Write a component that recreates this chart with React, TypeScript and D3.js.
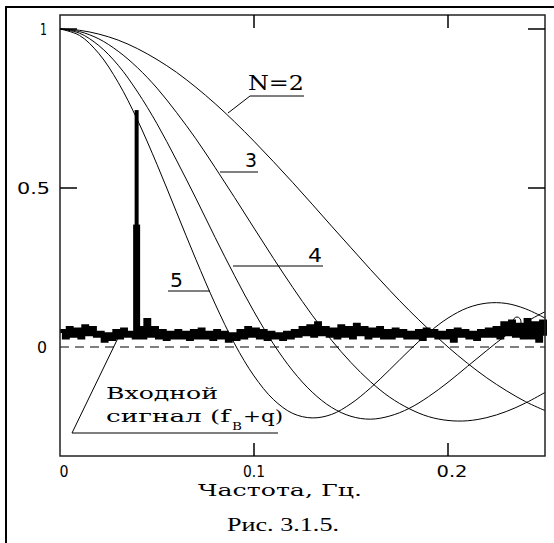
import { useEffect, useRef } from 'react';
import * as d3 from 'd3';

// frequency grid of the filter responses, Hz
const freq = [
  0, 0.01, 0.02, 0.03, 0.04, 0.05, 0.06, 0.07, 0.08, 0.09, 0.1, 0.11, 0.12,
  0.13, 0.14, 0.15, 0.16, 0.17, 0.18, 0.19, 0.2, 0.21, 0.22, 0.23, 0.24, 0.25,
];

// responses for N = 2..5
const responseN2 = [
  1, 0.996, 0.984, 0.965, 0.938, 0.904, 0.864, 0.817, 0.765, 0.708, 0.647, 0.583,
  0.517, 0.449, 0.38, 0.312, 0.244, 0.178, 0.115, 0.056, 0, -0.051, -0.097,
  -0.137, -0.172, -0.2,
];
const responseN3 = [
  1, 0.992, 0.969, 0.93, 0.878, 0.814, 0.738, 0.655, 0.564, 0.47, 0.374, 0.279,
  0.187, 0.1, 0.021, -0.049, -0.109, -0.158, -0.194, -0.219, -0.231, -0.232,
  -0.222, -0.203, -0.176, -0.143,
];
const responseN4 = [
  1, 0.987, 0.948, 0.886, 0.802, 0.702, 0.588, 0.468, 0.344, 0.224, 0.111, 0.01,
  -0.075, -0.142, -0.19, -0.218, -0.227, -0.217, -0.193, -0.156, -0.111,
  -0.061, -0.011, 0.037, 0.078, 0.111,
];
const responseN5 = [
  1, 0.98, 0.923, 0.832, 0.713, 0.574, 0.425, 0.276, 0.135, 0.01, -0.091,
  -0.165, -0.209, -0.223, -0.212, -0.178, -0.129, -0.071, -0.011, 0.045, 0.091,
  0.123, 0.138, 0.137, 0.12, 0.091,
];

// input signal: noise floor sampled every 0.002 Hz, plus one harmonic
const noiseStep = 0.002;
const noise = [
  0.05, 0.03, 0.06, 0.035, 0.055, 0.03, 0.065, 0.04, 0.06, 0.035,
  0.045, 0.02, 0.04, 0.025, 0.05, 0.03, 0.055, 0.035, 0.045, 0.03,
  0.06, 0.03, 0.085, 0.035, 0.06, 0.03, 0.05, 0.025, 0.045, 0.03,
  0.05, 0.03, 0.045, 0.025, 0.05, 0.03, 0.055, 0.03, 0.045, 0.025,
  0.05, 0.03, 0.045, 0.02, 0.04, 0.025, 0.05, 0.03, 0.06, 0.035,
  0.055, 0.03, 0.05, 0.025, 0.045, 0.03, 0.04, 0.025, 0.045, 0.03,
  0.05, 0.035, 0.06, 0.04, 0.065, 0.035, 0.075, 0.04, 0.06, 0.035,
  0.055, 0.03, 0.065, 0.035, 0.06, 0.03, 0.07, 0.04, 0.06, 0.03,
  0.055, 0.035, 0.06, 0.03, 0.05, 0.03, 0.055, 0.035, 0.05, 0.03,
  0.045, 0.03, 0.05, 0.025, 0.055, 0.035, 0.05, 0.03, 0.045, 0.03,
  0.05, 0.02, 0.055, 0.035, 0.05, 0.03, 0.045, 0.025, 0.05, 0.035,
  0.055, 0.035, 0.06, 0.03, 0.075, 0.04, 0.08, 0.035, 0.07, 0.03,
  0.085, 0.03, 0.075, 0.02, 0.08, 0.035,
];
const spikeFreq = 0.0395;
const spikeLevels = [0.385, 0.745];

const xTicks = [0, 0.1, 0.2];
const xTickLabels = ['0', '0.1', '0.2'];
const yTicks = [0, 0.5, 1];
const yTickLabels = ['0', '0.5', '1'];

const SANS = '"DejaVu Sans", sans-serif';
const SLAB = '"DejaVu Serif", serif';
const SERIF = '"Liberation Serif", serif';

const App = () => {
  const svgRef = useRef<SVGSVGElement>(null);

  useEffect(() => {
    const svg = d3.select(svgRef.current);
    svg.selectAll('*').remove();

    const left = 60, right = 545, top = 15, bottom = 456;
    const x = d3.scaleLinear().domain([0, 0.25]).range([left, right]);
    const y = d3.scaleLinear().domain([0, 1]).range([347, 29]);

    const text = (
      t: string, tx: number, ty: number, font: string, size: number,
      len?: number, anchor = 'start'
    ) => {
      const el = svg
        .append('text')
        .attr('x', tx)
        .attr('y', ty)
        .attr('text-anchor', anchor)
        .style('font-family', font)
        .style('font-size', size + 'px')
        .attr('fill', '#000')
        .text(t);
      if (len) el.attr('textLength', len).attr('lengthAdjust', 'spacingAndGlyphs');
      return el;
    };
    const seg = (x1: number, y1: number, x2: number, y2: number, w = 1) =>
      svg
        .append('line')
        .attr('x1', x1).attr('y1', y1).attr('x2', x2).attr('y2', y2)
        .attr('stroke', '#000')
        .attr('stroke-width', w);

    // outer frame
    svg
      .append('path')
      .attr('d', 'M6,543 V7 H554')
      .attr('fill', 'none')
      .attr('stroke', '#000')
      .attr('stroke-width', 2);

    // response curves
    const line = d3
      .line<number>()
      .x((_, i) => x(freq[i]))
      .y((d) => y(d))
      .curve(d3.curveCatmullRom);
    [responseN2, responseN3, responseN4, responseN5].forEach((s) => {
      svg
        .append('path')
        .attr('d', line(s))
        .attr('fill', 'none')
        .attr('stroke', '#000')
        .attr('stroke-width', 1);
    });

    // zero line
    seg(left, y(0), right, y(0), 1.2).attr('stroke-dasharray', '9,6');

    // input signal
    const noiseLine = d3
      .line<number>()
      .x((_, i) => x(i * noiseStep))
      .y((d) => y(d))
      .curve(d3.curveStepAfter);
    svg
      .append('path')
      .attr('d', noiseLine(noise))
      .attr('fill', 'none')
      .attr('stroke', '#000')
      .attr('stroke-width', 4);
    seg(x(spikeFreq), y(0.03), x(spikeFreq), y(spikeLevels[0]), 7);
    seg(x(spikeFreq), y(spikeLevels[0]) + 1, x(spikeFreq), y(spikeLevels[1]), 4);

    // small marker near the right edge
    svg
      .append('ellipse')
      .attr('cx', 517).attr('cy', 322).attr('rx', 4).attr('ry', 5)
      .attr('fill', 'none').attr('stroke', '#000').attr('stroke-width', 1);

    // plot frame and ticks
    svg
      .append('rect')
      .attr('x', left).attr('y', top)
      .attr('width', right - left).attr('height', bottom - top)
      .attr('fill', 'none')
      .attr('stroke', '#222')
      .attr('stroke-width', 1.5);
    xTicks.slice(1).forEach((t) => {
      seg(x(t), bottom, x(t), bottom - 13, 1.5);
      seg(x(t), top, x(t), top + 13, 1.5);
    });
    yTicks.slice(1).forEach((t) => {
      seg(left, y(t), left + 17, y(t), 1.5);
      seg(right, y(t), right - 17, y(t), 1.5);
    });

    // tick labels
    const xLens = [9, 22, 31];
    xTicks.forEach((t, i) =>
      text(xTickLabels[i], x(t) + (i === 1 ? 0 : 4), 477, SANS, 16, xLens[i], 'middle')
    );
    const yLens = [10, 33, 7];
    yTicks.forEach((t, i) =>
      text(yTickLabels[i], i === 1 ? 50 : 47, y(t) + 6, SANS, 16, yLens[i], 'end')
    );

    // curve labels
    text('N=2', 248, 90, SLAB, 20, 56);
    seg(250, 96, 304, 96);
    seg(250, 96, 228, 113);
    text('3', 245, 167, SANS, 20, 12);
    seg(220, 172, 258, 172);
    text('4', 308, 262, SANS, 20, 14);
    seg(233, 266, 323, 266);
    text('5', 170, 287, SANS, 20, 13);
    seg(168, 291, 210, 291);

    // input signal label
    text('Входной', 106, 399, SLAB, 17, 112);
    text('сигнал (f', 106, 422, SLAB, 17, 124);
    text('В', 232, 430, SLAB, 11, 10);
    text('+q)', 243, 422, SLAB, 17, 40);
    seg(72, 433, 278, 433);
    seg(72, 433, 118, 338);

    // axis title and caption
    text('Частота, Гц.', 198, 496, SLAB, 17, 164);
    text('Рис. 3.1.5.', 227, 531, SERIF, 18, 112);
  }, []);

  return (
    <svg
      ref={svgRef}
      width={554}
      height={543}
      style={{ position: 'absolute', left: 0, top: 0, background: '#fff' }}
    />
  );
};

export default App;
